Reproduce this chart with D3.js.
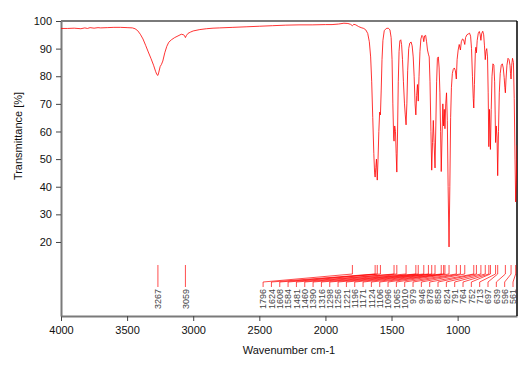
<!DOCTYPE html>
<html>
<head>
<meta charset="utf-8">
<script src="https://cdn.jsdelivr.net/npm/d3@7"></script>
<style>
body { margin: 0; background: #fff; }
text { font-family: Arial, "Liberation Sans", sans-serif; }
</style>
</head>
<body>
<div id="chart"></div>
<script>
// spectrum: wavenumber (cm-1) and transmittance (%)
var wavenumbers = [
  4000, 3950, 3900, 3850, 3820, 3800, 3780, 3750, 3720, 3700, 3650, 3600, 3550, 3500, 3460, 3440, 3420, 3400,
  3380, 3360, 3340, 3320, 3300, 3285, 3275, 3267, 3260, 3250, 3240, 3230, 3215, 3200, 3185, 3165, 3140, 3115,
  3090, 3072, 3065, 3059, 3052, 3040, 3020, 3000, 2950, 2900, 2850, 2800, 2700, 2600, 2500, 2400, 2300, 2200,
  2100, 2000, 1950, 1900, 1860, 1830, 1810, 1796, 1785, 1770, 1750, 1730, 1710, 1695, 1680, 1668, 1658, 1650,
  1642, 1634, 1628, 1624, 1619, 1614, 1608, 1602, 1596, 1590, 1584, 1578, 1572, 1565, 1555, 1540, 1525, 1512,
  1503, 1496, 1490, 1484, 1481, 1476, 1470, 1465, 1460, 1455, 1449, 1443, 1437, 1430, 1424, 1417, 1410, 1402,
  1396, 1390, 1384, 1378, 1370, 1362, 1352, 1344, 1336, 1329, 1322, 1316, 1310, 1304, 1298, 1292, 1285, 1278,
  1270, 1262, 1256, 1250, 1242, 1235, 1228, 1221, 1215, 1209, 1202, 1196, 1190, 1184, 1178, 1171, 1165, 1159,
  1153, 1146, 1140, 1134, 1129, 1124, 1118, 1112, 1106, 1101, 1096, 1090, 1084, 1078, 1072, 1065, 1059, 1053,
  1047, 1040, 1033, 1025, 1017, 1010, 1004, 996, 988, 979, 972, 963, 955, 946, 940, 930, 920, 910,
  902, 895, 888, 882, 878, 873, 866, 862, 858, 852, 844, 836, 830, 824, 818, 810, 803, 797,
  791, 786, 780, 774, 769, 764, 759, 752, 746, 740, 733, 726, 720, 716, 713, 708, 702, 697,
  691, 685, 678, 670, 662, 655, 648, 643, 639, 634, 627, 619, 611, 604, 600, 596, 591, 585,
  578, 572, 566, 561, 556, 551
];
var transmittance = [
  97.3, 97.3, 97.4, 97.2, 97.5, 97.3, 97.6, 97.4, 97.6, 97.5, 97.6, 97.7, 97.7, 97.6, 97.5, 97.2, 96.5, 95.2,
  93.5, 91.2, 88.8, 86.5, 84.0, 81.8, 80.6, 80.3, 81.5, 83.5, 84.3, 85.5, 88.5, 90.8, 92.3, 93.2, 94.0, 94.6,
  95.2, 95.0, 94.6, 94.0, 94.7, 95.5, 96.0, 96.4, 96.9, 97.2, 97.4, 97.5, 97.7, 97.9, 98.1, 98.3, 98.5, 98.6,
  98.6, 98.7, 98.7, 98.9, 99.2, 99.1, 98.8, 98.3, 98.8, 98.6, 98.0, 97.6, 97.3, 96.8, 95.5, 92.5, 87.0, 78.0,
  65.0, 52.0, 45.0, 43.5, 47.0, 50.0, 42.4, 50.0, 60.0, 67.0, 66.0, 75.0, 86.0, 93.0, 96.5, 97.3, 97.4, 96.8,
  94.0, 86.0, 70.0, 58.0, 56.5, 62.0, 60.0, 52.0, 45.3, 58.0, 78.0, 89.0, 92.8, 93.2, 91.5, 86.0, 78.0, 70.0,
  66.0, 62.4, 70.0, 82.0, 90.0, 92.0, 92.4, 91.0, 87.0, 80.0, 70.0, 66.0, 73.0, 77.0, 71.0, 80.0, 89.0, 93.5,
  94.8, 94.3, 92.5, 94.6, 94.8, 92.5, 89.5, 88.0, 87.0, 78.0, 60.0, 46.0, 56.0, 64.0, 56.0, 46.8, 62.0, 78.0,
  86.5, 87.0, 83.0, 74.0, 60.0, 45.5, 58.0, 70.0, 62.0, 68.0, 61.0, 70.0, 74.0, 64.0, 40.0, 18.2, 40.0, 65.0,
  76.0, 81.0, 82.5, 83.0, 82.0, 79.0, 86.0, 89.5, 91.5, 89.5, 92.5, 93.5, 93.2, 91.5, 94.0, 95.0, 95.3, 95.6,
  94.5, 90.0, 80.0, 72.0, 68.5, 77.0, 89.0, 90.5, 88.5, 93.0, 95.5, 96.2, 95.2, 93.0, 95.5, 96.3, 95.0, 91.0,
  86.0, 89.0, 90.0, 87.0, 74.0, 54.5, 68.0, 53.5, 68.0, 80.0, 84.5, 84.0, 78.0, 66.0, 56.0, 62.0, 58.0, 44.0,
  60.0, 74.0, 81.0, 84.0, 84.5, 83.0, 79.5, 76.0, 74.0, 79.0, 84.0, 86.5, 86.0, 84.0, 81.0, 79.0, 84.0, 86.5,
  85.0, 72.0, 50.0, 34.5, 42.0, 55.0
];
// peak picks shown under the spectrum
var peakPositions = [3267, 3059, 1796, 1624, 1608, 1584, 1481, 1460, 1390, 1316, 1298, 1256, 1221, 1196, 1171,
  1124, 1106, 1096, 1065, 1010, 979, 946, 878, 858, 824, 791, 764, 752, 713, 697, 639, 596, 561];
var xTickValues = [4000, 3500, 3000, 2500, 2000, 1500, 1000];
var yTickValues = [20, 30, 40, 50, 60, 70, 80, 90, 100];

var svgWidth = 526;
var svgHeight = 371;

var margin = {
  top: 21,
  right: 9,
  bottom: 55,
  left: 61
};

var width = svgWidth - margin.left - margin.right;
var height = svgHeight - margin.top - margin.bottom;

var svg = d3.select("#chart")
  .append("svg")
  .attr("width", svgWidth)
  .attr("height", svgHeight);

var chartGroup = svg.append("g")
  .attr("transform", `translate(${margin.left}, ${margin.top})`);

var xLinear = d3.scaleLinear().domain([4000, 551]).range([0, width]);
var yLinear = d3.scaleLinear().domain([-6.8, 100]).range([height, 0]);

svg.append("defs").append("clipPath").attr("id", "plotClip")
  .append("rect").attr("width", width).attr("height", height);

// axes
var xAxis = chartGroup.append("g")
  .attr("transform", `translate(0, ${height})`)
  .call(d3.axisBottom(xLinear).tickValues(xTickValues).tickSize(5).tickSizeOuter(0).tickPadding(5).tickFormat(d3.format("d")));

var yAxis = chartGroup.append("g")
  .call(d3.axisLeft(yLinear).tickValues(yTickValues).tickSize(5).tickSizeOuter(0).tickPadding(4));

[xAxis, yAxis].forEach(function(ax) {
  ax.select(".domain").attr("stroke", "#7a7a7a").attr("stroke-width", 2);
  ax.selectAll(".tick line").attr("stroke", "#444");
  ax.selectAll(".tick text").attr("fill", "#111").style("font-size", "11px");
});

// frame: grey top, black right
chartGroup.append("line")
  .attr("x1", 0).attr("x2", width).attr("y1", 0).attr("y2", 0)
  .attr("stroke", "#7a7a7a").attr("stroke-width", 2);
chartGroup.append("line")
  .attr("x1", width).attr("x2", width).attr("y1", 0).attr("y2", height)
  .attr("stroke", "#000").attr("stroke-width", 1.5);

// spectrum
var points = wavenumbers.map(function(w, i) { return [w, transmittance[i]]; });

chartGroup.append("path")
  .datum(points)
  .attr("clip-path", "url(#plotClip)")
  .attr("fill", "none")
  .attr("stroke", "#ff0000")
  .attr("stroke-width", 0.8)
  .attr("d", d3.line().x(d => xLinear(d[0])).y(d => yLinear(d[1])));

// peak labels, pushed left so they don't overlap
var labelGap = 8.33;
var peakX = peakPositions.map(p => xLinear(p));
var labelX = peakX.slice();
labelX[labelX.length - 1] = Math.min(peakX[peakX.length - 1], width - 4);
for (var i = labelX.length - 2; i >= 0; i--) {
  labelX[i] = Math.min(peakX[i], labelX[i + 1] - labelGap);
}

var tickTop = 244, tickBottom = 253, slantBottom = 261, lineEnd = 266;

chartGroup.selectAll(".peakLine")
  .data(peakPositions)
  .enter()
  .append("path")
  .attr("class", "peakLine")
  .attr("fill", "none")
  .attr("stroke", "#ff0000")
  .attr("stroke-width", 0.7)
  .attr("d", (d, i) => `M${peakX[i]},${tickTop}V${tickBottom}L${labelX[i]},${slantBottom}V${lineEnd}`);

chartGroup.selectAll(".peakLabel")
  .data(peakPositions)
  .enter()
  .append("text")
  .attr("class", "peakLabel")
  .attr("transform", (d, i) => `translate(${labelX[i] + 3.3}, ${lineEnd + 2}) rotate(-90)`)
  .attr("text-anchor", "end")
  .attr("fill", "#444")
  .style("font-size", "9px")
  .text(d => d);

// axis titles
svg.append("text")
  .attr("transform", "translate(22, 136) rotate(-90)")
  .attr("text-anchor", "middle")
  .attr("fill", "#111")
  .style("font-size", "11px")
  .text("Transmittance [%]");

svg.append("text")
  .attr("x", margin.left + width / 2)
  .attr("y", 354)
  .attr("text-anchor", "middle")
  .attr("fill", "#111")
  .style("font-size", "11px")
  .text("Wavenumber cm-1");
</script>
</body>
</html>
